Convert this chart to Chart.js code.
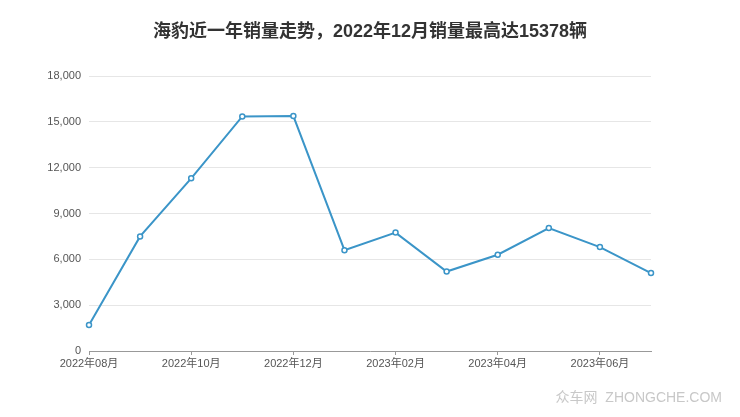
<!DOCTYPE html>
<html>
<head>
<meta charset="utf-8">
<script src="https://cdn.jsdelivr.net/npm/chart.js@4/dist/chart.umd.min.js"></script>
<style>
  body { margin: 0; background: #fff; }
  #wrap { width: 740px; height: 417px; position: relative; }
</style>
</head>
<body>
<div id="wrap"><canvas id="sales"></canvas></div>
<script>
// months shown on the x axis (every other label is printed)
var months = ["2022年08月", "2022年09月", "2022年10月", "2022年11月", "2022年12月", "2023年01月",
              "2023年02月", "2023年03月", "2023年04月", "2023年05月", "2023年06月", "2023年07月"];
// monthly sales
var sales = [1700, 7500, 11300, 15350, 15378, 6600, 7750, 5200, 6300, 8050, 6800, 5100];
var yTicks = [0, 3000, 6000, 9000, 12000, 15000, 18000];

var titleText = "海豹近一年销量走势，2022年12月销量最高达15378辆";
var watermark = "众车网  ZHONGCHE.COM";

var font = "'Liberation Sans', 'Noto Sans CJK SC', sans-serif";

// title centred on the whole canvas, plus the site mark bottom right
var textPlugin = {
  id: "texts",
  afterDraw: function (chart) {
    var c = chart.ctx;
    c.save();
    c.font = "bold 18px " + font;
    c.fillStyle = "#333333";
    c.textAlign = "center";
    c.textBaseline = "middle";
    c.fillText(titleText, chart.width / 2, 32);

    c.font = "14px " + font;
    c.fillStyle = "#c8c8c8";
    c.textAlign = "right";
    c.fillText(watermark, 722, 398);
    c.restore();
  }
};

var ctx = document.getElementById("sales").getContext("2d");
var chart = new Chart(ctx, {
  type: "line",
  data: {
    labels: months,
    datasets: [
      {
        data: sales,
        borderColor: "#3b95c8",
        backgroundColor: "#ffffff",
        borderWidth: 2,
        pointRadius: 2.5,
        pointBorderWidth: 1.5,
        pointBackgroundColor: "#ffffff",
        pointBorderColor: "#3b95c8",
        tension: 0,
        fill: false
      }
    ]
  },
  options: {
    responsive: true,
    maintainAspectRatio: false,
    animation: false,
    layout: { padding: { left: 0, right: 89, top: 76, bottom: 36 } },
    plugins: {
      legend: { display: false },
      tooltip: { enabled: false },
      title: { display: false }
    },
    scales: {
      x: {
        afterFit: function (s) { s.height = 30; },
        grid: {
          display: true,
          drawOnChartArea: false,
          drawTicks: true,
          tickLength: 4,
          color: "#999999"
        },
        border: { display: true, color: "#999999", width: 1 },
        ticks: {
          autoSkip: false,
          maxRotation: 0,
          color: "#555555",
          font: { family: font, size: 11 },
          padding: 2,
          callback: function (v, i) { return i % 2 === 0 ? months[i] : null; }
        }
      },
      y: {
        min: 0,
        max: 18000,
        afterFit: function (s) { s.width = 89; },
        afterBuildTicks: function (s) { s.ticks = yTicks.map(function (v) { return { value: v }; }); },
        grid: { color: "#e6e6e6", drawTicks: false },
        border: { display: false },
        ticks: {
          color: "#555555",
          padding: 8,
          font: { family: font, size: 11 },
          callback: function (v) { return v.toLocaleString("en-US"); }
        }
      }
    }
  },
  plugins: [textPlugin]
});
</script>
</body>
</html>
